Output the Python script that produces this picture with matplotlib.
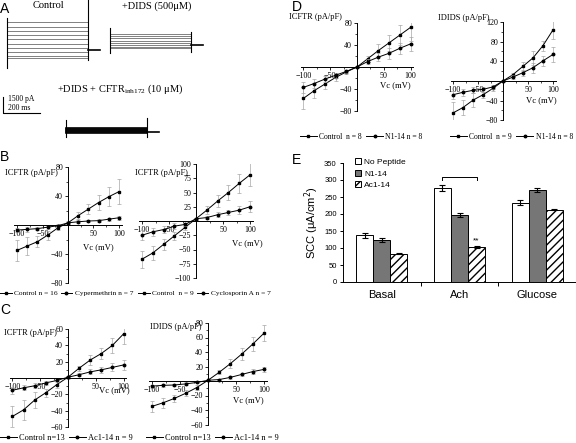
import matplotlib
matplotlib.use("Agg")
import matplotlib.pyplot as plt
from matplotlib.lines import Line2D

W, H = 576, 443
SERIF = "Liberation Serif"
SANS = "Liberation Sans"
plt.rcParams['hatch.linewidth'] = 1.0

# ---------------- data ----------------
vc = [-100, -80, -60, -40, -20, 0, 20, 40, 60, 80, 100]

# A: current levels of each step (pA, relative to holding)
a_control = [2650, 2200, 1800, 1400, 1000, 600, 200, -150, -550, -750]
a_dids = [1030, 845, 630, 400, 215, 0, -160, -310]
a_inh = [375, 280, 190, 94, 0, -94]

# B left
b1_ctrl = [-35, -29, -23, -14, -4, 3, 13, 22, 31, 39, 46]
b1_ctrl_err = [14, 12, 8, 6, 3, 2, 5, 7, 10, 13, 17]
b1_cyp = [-7, -6, -5, -3, -1, 3, 4.5, 5.5, 6, 8, 10]
b1_cyp_err = [3, 3, 2, 2, 2, 1, 2, 2, 2, 2, 3]
# B right
b2_ctrl = [-67, -56, -41, -26, -11, 4, 19, 35, 50, 66, 81]
b2_ctrl_err = [15, 12, 9, 7, 4, 2, 7, 10, 13, 16, 20]
b2_cyc = [-25, -19, -15, -9, -6, 4, 6, 11, 15, 19, 25]
b2_cyc_err = [9, 7, 6, 5, 3, 2, 3, 4, 5, 7, 10]
# C left
c1_ctrl = [-47, -39, -27, -18, -8, 1, 12, 22, 30, 40, 54]
c1_ctrl_err = [13, 12, 10, 5, 4, 2, 3, 6, 7, 9, 12]
c1_ac = [-15, -12, -9.5, -6, -3, 1, 4, 7.5, 10, 13, 16]
c1_ac_err = [4, 3, 3, 2, 2, 1, 2, 3, 4, 5, 6]
# C right
c2_ctrl = [-35, -30, -24, -17, -9, 1, 12, 24, 37, 51, 66]
c2_ctrl_err = [8, 7, 5, 4, 3, 1, 3, 6, 8, 10, 11]
c2_ac = [-7, -6, -5.5, -4, -2, 1, 2, 5, 9, 13, 16]
c2_ac_err = [2, 2, 2, 2, 1, 1, 1, 2, 2, 3, 3]
# D left
d1_ctrl = [-57, -43, -31, -19, -9, 0, 15, 30, 44, 58, 72]
d1_ctrl_err = [20, 14, 9, 6, 4, 2, 5, 12, 15, 18, 25]
d1_n = [-37, -30, -22, -15, -8, 0, 10, 18, 25, 34, 42]
d1_n_err = [10, 8, 6, 5, 3, 2, 4, 7, 10, 10, 12]
# D right
d2_ctrl = [-65, -54, -39, -28, -15, 0, 13, 30, 47, 72, 104]
d2_ctrl_err = [23, 16, 14, 6, 5, 2, 4, 9, 14, 10, 18]
d2_n = [-28, -23, -19, -17, -12, 0, 8, 17, 27, 41, 54]
d2_n_err = [8, 7, 6, 5, 4, 2, 4, 6, 10, 10, 16]

# E
groups = ['Basal', 'Ach', 'Glucose']
e_nopep = [137, 277, 233]
e_nopep_err = [8, 8, 7]
e_n114 = [123, 197, 270]
e_n114_err = [6, 6, 6]
e_ac114 = [83, 103, 213]
e_ac114_err = [2, 3, 2]

# ---------------- helpers ----------------
fig = plt.figure(figsize=(W / 100, H / 100), dpi=100)


def px_axes(l, t, r, b):
    return fig.add_axes([l / W, 1 - b / H, (r - l) / W, (b - t) / H])


def ftext(x, y, s, **kw):
    fig.text(x / W, 1 - y / H, s, **kw)


def panel_label(x, y, s):
    ftext(x, y, s, family=SANS, fontsize=10, va='center', ha='left')


# ---------------- A: current traces ----------------
PX_PER_MS = 37 / 200
PX_PER_PA = 16 / 1500
STEP_MS = 440
TAIL_MS = 60

axA = px_axes(0, 0, 290, 145)
axA.set_xlim(0, 290)
axA.set_ylim(145, 0)
axA.axis('off')


def trace(x0, y0, levels, color, lw, on_spike, off_spike):
    x1 = x0 + STEP_MS * PX_PER_MS
    for lev in levels:
        yy = y0 - lev * PX_PER_PA
        axA.plot([x0, x1], [yy, yy], color=color, lw=lw)
    axA.plot([x0, x0], [y0 - on_spike[0] * PX_PER_PA, y0 - on_spike[1] * PX_PER_PA], color='k', lw=0.8)
    axA.plot([x1, x1], [y0 - off_spike[0] * PX_PER_PA, y0 - off_spike[1] * PX_PER_PA], color='k', lw=0.8)
    axA.plot([x1, x1 + TAIL_MS * PX_PER_MS], [y0, y0], color='k', lw=1.2)


trace(7, 50, a_control, '0.3', 0.5, (3000, -1690), (4690, -940))
trace(110, 45, a_dids, '0.5', 0.7, (1600, -750), (1220, -660))
trace(66, 132, a_inh, 'k', 1.2, (1125, -470), (1310, -470))

# scale bar
axA.plot([3, 3, 3 + 200 * PX_PER_MS], [113 - 1500 * PX_PER_PA, 113, 113], color='k', lw=0.8)
ftext(8, 99, '1500 pA', family=SERIF, fontsize=5.5, va='center')
ftext(8, 107.5, '200 ms', family=SERIF, fontsize=5.5, va='center')

ftext(48, 6, 'Control', family=SERIF, fontsize=7.5, ha='center', va='center')
ftext(157, 6, '+DIDS (500\u03bcM)', family=SERIF, fontsize=7.5, ha='center', va='center')
ftext(120, 89, r'+DIDS + CFTR$_{\mathregular{inh172}}$ (10 $\mathregular{\mu}$M)', family=SERIF,
      fontsize=7.5, ha='center', va='center')
panel_label(0, 9, 'A')


# ---------------- IV plots ----------------
def iv_plot(box, ylim, yticks, yminor, s1, e1, s2, e2, title, title_xy, vc_xy):
    ax = px_axes(*box)
    ax.set_xlim(-105, 105)
    ax.set_ylim(*ylim)
    for sp in ['top', 'right']:
        ax.spines[sp].set_visible(False)
    ax.spines['left'].set_position(('data', 0))
    ax.spines['bottom'].set_position(('data', 0))
    for sp in ['left', 'bottom']:
        ax.spines[sp].set_linewidth(0.7)
    ax.set_xticks([-100, -50, 50, 100])
    ax.set_xticks([-75, -25, 25, 75], minor=True)
    ax.set_yticks(yticks)
    ax.set_yticks(yminor, minor=True)
    ax.tick_params(which='major', direction='out', length=2.5, width=0.6, pad=1, labelsize=5.8)
    ax.tick_params(which='minor', direction='out', length=1.5, width=0.5)
    for lab in ax.get_xticklabels() + ax.get_yticklabels():
        lab.set_family(SERIF)
    ax.patch.set_visible(False)
    for ys, es, mk in [(s1, e1, 's'), (s2, e2, 'o')]:
        ax.errorbar(vc, ys, yerr=es, fmt='none', ecolor='0.65', elinewidth=0.5,
                    capsize=1.2, capthick=0.5)
        ax.plot(vc, ys, color='k', lw=0.7, marker=mk, ms=1.8)
    ftext(title_xy[0], title_xy[1], title, family=SERIF, fontsize=6, va='center')
    ftext(vc_xy[0], vc_xy[1], 'Vc (mV)', family=SERIF, fontsize=6.2, va='center', ha='center')
    return ax


def iv_legend(x, y, labels, size=5.3, hl=1.6, cs=0.4):
    handles = [Line2D([], [], color='k', lw=0.7, marker='s', ms=1.8),
               Line2D([], [], color='k', lw=0.7, marker='o', ms=1.8)]
    fig.legend(handles, labels, loc='center left', bbox_to_anchor=(x / W, 1 - y / H), ncol=2,
               frameon=False, prop={'family': SERIF, 'size': size}, handlelength=hl,
               handletextpad=0.3, columnspacing=cs, borderpad=0, borderaxespad=0)


# B
panel_label(0, 157, 'B')
iv_plot((14.5, 167, 121.5, 283), (-80, 80), [-80, -40, 40, 80], [-60, -20, 20, 60],
        b1_ctrl, b1_ctrl_err, b1_cyp, b1_cyp_err, 'ICFTR (pA/pF)', (5, 173), (98, 247))
iv_plot((139.3, 164, 252.7, 278), (-100, 100), [-100, -75, -50, -25, 25, 50, 75, 100], [],
        b2_ctrl, b2_ctrl_err, b2_cyc, b2_cyc_err, 'ICFTR (pA/pF)', (135, 173), (247, 243))
iv_legend(0, 293, ['Control n = 16', 'Cypermethrin n = 7'])
iv_legend(138, 293, ['Control  n = 9', 'Cyclosporin A n = 7'])

# C
panel_label(0, 310, 'C')
iv_plot((9.7, 329, 126.3, 427), (-60, 60), [-60, -40, -20, 20, 40, 60], [-50, -30, -10, 10, 30, 50],
        c1_ctrl, c1_ctrl_err, c1_ac, c1_ac_err, 'ICFTR (pA/pF)', (4, 333), (114, 390))
iv_plot((149.2, 323, 266.8, 424.5), (-60, 80), [-60, -40, -20, 20, 40, 60, 80], [-50, -30, -10, 10, 30, 50, 70],
        c2_ctrl, c2_ctrl_err, c2_ac, c2_ac_err, 'IDIDS (pA/pF)', (150, 327), (248, 400))
iv_legend(0, 438, ['Control n=13', 'Ac1-14 n = 9'], size=6, hl=2.0, cs=0.5)
iv_legend(146, 438, ['Control n=13', 'Ac1-14 n = 9'], size=6, hl=2.0, cs=0.5)

# D
panel_label(292, 7, 'D')
iv_plot((300.8, 23, 413.2, 111), (-80, 80), [-80, -40, 40, 80], [-60, -20, 20, 60],
        d1_ctrl, d1_ctrl_err, d1_n, d1_n_err, 'ICFTR (pA/pF)', (289, 17), (395, 85))
iv_plot((450.5, 22, 555.5, 120.3), (-80, 120), [-80, -40, 40, 80, 120], [-60, -20, 20, 60, 100],
        d2_ctrl, d2_ctrl_err, d2_n, d2_n_err, 'IDIDS (pA/pF)', (438, 18), (541, 100))
iv_legend(300, 137, ['Control  n = 8', 'N1-14 n = 8'], size=5.5, hl=2.2, cs=0.6)
iv_legend(450, 137, ['Control  n = 9', 'N1-14 n = 8'], size=5.5, hl=2.2, cs=0.6)

# ---------------- E: bar chart ----------------
panel_label(292, 160, 'E')
axE = px_axes(343, 163, 576, 282)
bw = 0.22
xs = list(range(len(groups)))
ekw = dict(elinewidth=0.8, capthick=0.8)
axE.bar([x - bw for x in xs], e_nopep, bw, color='white', edgecolor='k', lw=0.7,
        yerr=e_nopep_err, capsize=2.5, error_kw=ekw, label='No Peptide')
axE.bar(xs, e_n114, bw, color='#767676', edgecolor='k', lw=0.7,
        yerr=e_n114_err, capsize=2.5, error_kw=ekw, label='N1-14')
axE.bar([x + bw for x in xs], e_ac114, bw, color='white', edgecolor='k', lw=0.7, hatch='////',
        yerr=e_ac114_err, capsize=2.5, error_kw=ekw, label='Ac1-14')
axE.set_xlim(-0.5, 2.5)
axE.set_ylim(0, 350)
axE.set_yticks(range(0, 351, 50))
axE.set_xticks(xs)
axE.set_xticklabels(groups, family=SANS, fontsize=8)
axE.set_xticks([0.5, 1.5], minor=True)
axE.tick_params(axis='x', which='major', length=0, pad=6)
axE.tick_params(axis='x', which='minor', length=3, width=0.7, direction='out')
axE.tick_params(axis='y', length=2.5, width=0.7, pad=2, labelsize=5.5)
for lab in axE.get_yticklabels():
    lab.set_family(SANS)
for sp in ['top', 'right']:
    axE.spines[sp].set_visible(False)
for sp in ['left', 'bottom']:
    axE.spines[sp].set_linewidth(0.7)
axE.set_ylabel('SCC (\u03bcA/cm$^2$)', family=SANS, fontsize=8, labelpad=2)
axE.legend(loc='upper left', bbox_to_anchor=((355 - 343) / 233, 1.04), frameon=False,
           prop={'family': SANS, 'size': 6}, handlelength=0.7, handleheight=0.7,
           handletextpad=0.4, labelspacing=0.45, borderpad=0, borderaxespad=0)
# significance bracket over Ach
axE.plot([1 - bw, 1 - bw, 1 + bw, 1 + bw], [300, 309, 309, 300], color='k', lw=0.7)
axE.text(1 + bw, e_ac114[1] + 8, '**', ha='center', va='bottom', fontsize=6, family=SANS)

fig.savefig('out.png', dpi=100)
